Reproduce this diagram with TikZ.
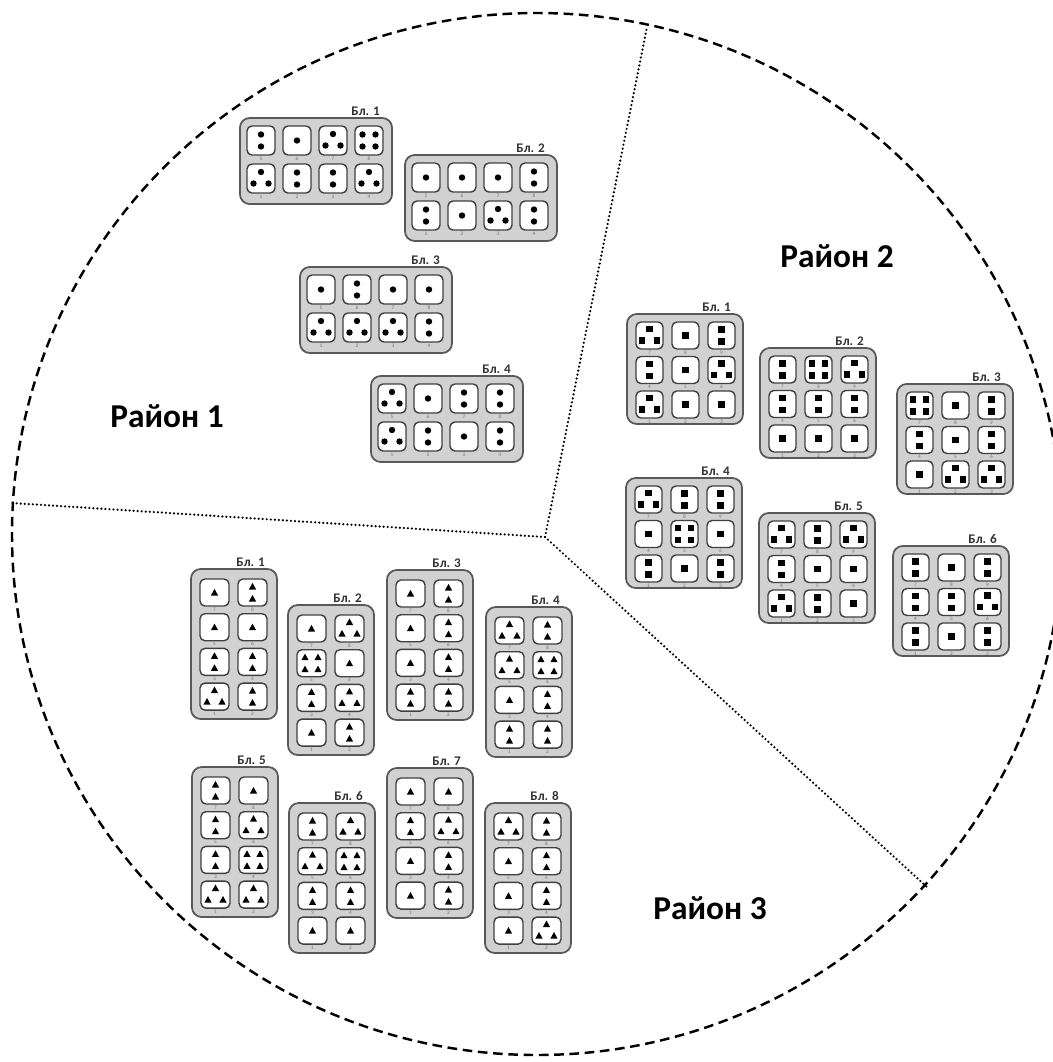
\documentclass[tikz,border=0pt]{standalone}
\usepackage{fontspec}
\setmainfont{Carlito}

\tikzset{
  distline/.style={line width=1.4pt, dash pattern=on 5.5pt off 3.2pt},
  splitline/.style={line width=1.4pt, line cap=round, dash pattern=on 0pt off 2.3pt},
  blockbox/.style={draw=black!65, fill=black!18, line width=1pt, rounded corners=5.5pt},
  cellbox/.style={draw=black!75, fill=white, line width=0.8pt, rounded corners=2.8pt},
  blklabel/.style={anchor=south east, inner sep=1pt, text=black!80, font=\bfseries\fontsize{7.5}{8}\selectfont},
  numlabel/.style={inner sep=0pt, text=black!55, font=\fontsize{3}{3}\selectfont},
  district/.style={font=\bfseries\fontsize{19}{22}\selectfont},
}

% pips
\newcommand{\pipdot}[2]{\fill (#1,#2) circle[radius=3.2];}
\newcommand{\pipsq}[2]{\fill ({#1-3.2},{#2-3.2}) rectangle ++(6.4,6.4);}
\newcommand{\piptri}[2]{\fill ({#1},{#2-3.6}) -- ++(3.6,6.6) -- ++(-7.2,0) -- cycle;}

\newcommand{\face}[2]{%
  \ifcase#1\relax\or
    #2{0}{0}%
  \or
    #2{0}{-6}#2{0}{6}%
  \or
    #2{0}{-6.5}#2{-7.5}{5}#2{7.5}{5}%
  \or
    #2{-6.5}{-6}#2{6.5}{-6}#2{-6.5}{6}#2{6.5}{6}%
  \fi}

% block types
\newcommand{\typeA}{\def\bkcols{4}\def\bkrows{2}\def\bkw{152}\def\bkh{86}\def\bkcw{28}\def\bkch{29}\def\bkpx{36}\def\bkpy{38}\def\bkpadx{7}\def\bkpady{8}\let\bkpip\pipdot}
\newcommand{\typeB}{\def\bkcols{3}\def\bkrows{3}\def\bkw{116}\def\bkh{110}\def\bkcw{27}\def\bkch{27}\def\bkpx{36}\def\bkpy{34.5}\def\bkpadx{9}\def\bkpady{8}\let\bkpip\pipsq}
\newcommand{\typeC}{\def\bkcols{2}\def\bkrows{4}\def\bkw{86}\def\bkh{150}\def\bkcw{29}\def\bkch{27}\def\bkpx{38}\def\bkpy{34.7}\def\bkpadx{9}\def\bkpady{10}\let\bkpip\piptri}

\newcommand{\bkblock}[5]{% name, x, y, nr, values (rows from top)
  \draw[blockbox] (#2,#3) rectangle ++(\bkw,\bkh);
  \node[blklabel] (#1) at ({#2+\bkw-10},#3) {Бл. #4};
  \foreach \v [count=\i from 0] in {#5} {
    \pgfmathtruncatemacro\cc{mod(\i,\bkcols)}
    \pgfmathtruncatemacro\rr{div(\i,\bkcols)}
    \pgfmathtruncatemacro\nn{(\bkrows-1-\rr)*\bkcols+\cc+1}
    \pgfmathsetmacro\cx{#2+\bkpadx+\cc*\bkpx}
    \pgfmathsetmacro\cy{#3+\bkpady+\rr*\bkpy}
    \draw[cellbox] (\cx,\cy) rectangle ++(\bkcw,\bkch);
    \node[numlabel] (#1n\nn) at ({\cx+\bkcw/2},{\cy+\bkch+3.5}) {\nn};
    \begin{scope}[shift={({\cx+\bkcw/2},{\cy+\bkch/2})}]
      \face{\v}{\bkpip}
    \end{scope}
  }
}

\begin{document}
\begin{tikzpicture}[x=0.02cm, y=-0.02cm]
  \useasboundingbox (0,0) rectangle (1053,1062);

  \draw[distline] (537,534) ellipse [x radius=525, y radius=521]; % town
  \coordinate (mid) at (545,537);
  \coordinate (top) at (647,27);
  \coordinate (left) at (12,503);
  \coordinate (low) at (928,888);
  \draw[splitline] (mid) -- (top); % district borders
  \draw[splitline] (mid) -- (left);
  \draw[splitline] (mid) -- (low);

  \node[district] (r1) at (167,416) {Район 1};
  \node[district] (r2) at (837,256) {Район 2};
  \node[district] (r3) at (710,908) {Район 3};

  % Район 1
  \typeA
  \bkblock{a1}{240}{118}{1}{2,1,3,4,3,2,2,3}
  \bkblock{a2}{405}{155}{2}{1,1,1,2,2,1,3,2}
  \bkblock{a3}{300}{267}{3}{1,2,1,1,3,3,3,2}
  \bkblock{a4}{371}{376}{4}{3,1,2,2,3,2,1,2}

  % Район 2
  \typeB
  \bkblock{b1}{627}{314}{1}{3,1,2,2,1,3,3,1,1}
  \bkblock{b2}{760}{348}{2}{2,4,3,2,2,2,1,1,1}
  \bkblock{b3}{897}{384}{3}{4,1,2,2,1,2,1,3,3}
  \bkblock{b4}{626}{478}{4}{3,2,2,1,4,1,2,1,2}
  \bkblock{b5}{759}{513}{5}{3,2,3,2,1,1,3,2,1}
  \bkblock{b6}{893}{546}{6}{2,1,2,2,2,3,2,1,2}

  % Район 3
  \typeC
  \bkblock{c1}{191}{569}{1}{1,2,1,1,2,2,3,2}
  \bkblock{c2}{288}{605}{2}{1,3,4,1,2,3,1,2}
  \bkblock{c3}{387}{570}{3}{1,2,1,2,1,2,2,2}
  \bkblock{c4}{486}{607}{4}{3,2,3,4,1,2,2,2}
  \bkblock{c5}{192}{767}{5}{2,1,2,3,2,4,3,3}
  \bkblock{c6}{289}{803}{6}{2,3,3,4,2,2,1,1}
  \bkblock{c7}{387}{768}{7}{1,1,2,3,1,2,1,2}
  \bkblock{c8}{485}{803}{8}{3,2,1,2,1,2,1,3}
\end{tikzpicture}
\end{document}
